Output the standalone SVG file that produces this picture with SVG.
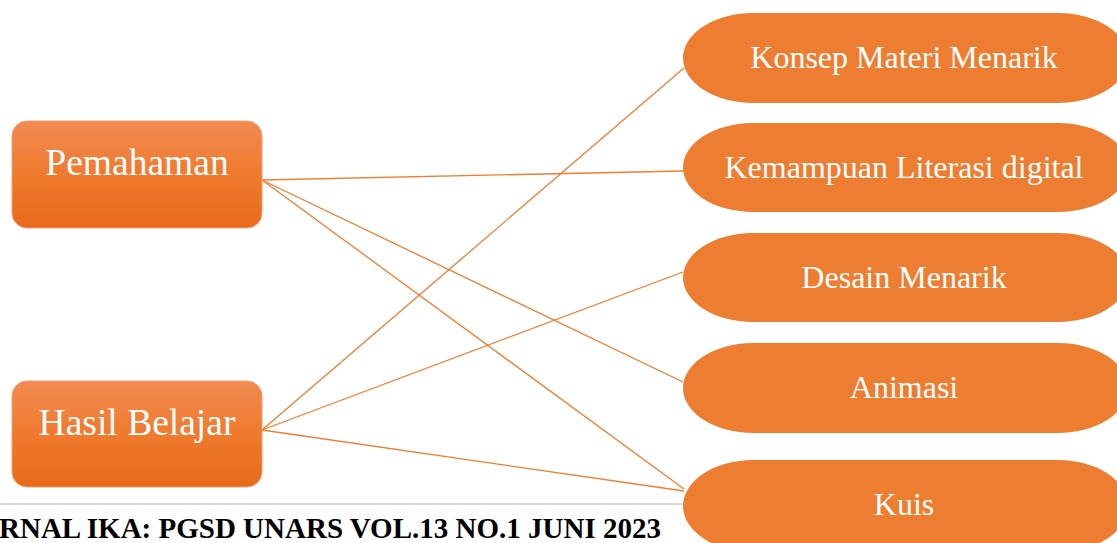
<svg xmlns="http://www.w3.org/2000/svg" width="1117" height="543" viewBox="0 0 1117 543">
<defs>
<linearGradient id="g" x1="0" y1="0" x2="0" y2="1">
<stop offset="0" stop-color="#F08B52"/>
<stop offset="0.5" stop-color="#F07A2E"/>
<stop offset="1" stop-color="#E76A1A"/>
</linearGradient>
<style>
.box{fill:url(#g);stroke:#F3A070;stroke-width:1}
.pill{fill:#ED7D31}
.lt{font-family:"Liberation Serif","Times New Roman",serif;font-size:37.5px;fill:#FFFFFF;text-anchor:middle}
.rt{font-family:"Liberation Serif","Times New Roman",serif;font-size:32px;fill:#FFFFFF;text-anchor:middle}
.c{stroke:#ED7D31;stroke-width:1.3;fill:none}
</style>
</defs>
<rect width="1117" height="543" fill="#FFFFFF"/>
<g id="footer">
<line x1="0" y1="504" x2="690" y2="504" stroke="#D9D9D9" stroke-width="2"/>
<text x="-1" y="538" font-family="Liberation Serif,'Times New Roman',serif" font-weight="bold" font-size="29" fill="#000000">RNAL IKA: PGSD UNARS VOL.13 NO.1 JUNI 2023</text>
</g>
<g id="connectors">
<line class="c" x1="262" y1="180" x2="683" y2="171"/>
<line class="c" x1="262" y1="180" x2="683" y2="382"/>
<line class="c" x1="262" y1="180" x2="684" y2="489"/>
<line class="c" x1="262" y1="430" x2="684" y2="68"/>
<line class="c" x1="262" y1="430" x2="683" y2="272"/>
<line class="c" x1="262" y1="430" x2="684" y2="491"/>
</g>
<g id="pemahaman">
<rect class="box" x="12" y="121" width="250" height="107" rx="15"/>
<text class="lt" x="137" y="175">Pemahaman</text>
</g>
<g id="hasil-belajar">
<rect class="box" x="12" y="381" width="250" height="106" rx="15"/>
<text class="lt" x="137" y="435">Hasil Belajar</text>
</g>
<g id="konsep">
<rect class="pill" x="683" y="13" width="445" height="90" rx="70" ry="45"/>
<text class="rt" x="904" y="68">Konsep Materi Menarik</text>
</g>
<g id="kemampuan">
<rect class="pill" x="683" y="123" width="445" height="89" rx="70" ry="44.5"/>
<text class="rt" x="904" y="178">Kemampuan Literasi digital</text>
</g>
<g id="desain">
<rect class="pill" x="683" y="233" width="445" height="89" rx="70" ry="44.5"/>
<text class="rt" x="904" y="288">Desain Menarik</text>
</g>
<g id="animasi">
<rect class="pill" x="683" y="343" width="445" height="90" rx="70" ry="45"/>
<text class="rt" x="904" y="398">Animasi</text>
</g>
<g id="kuis">
<rect class="pill" x="683" y="460" width="445" height="92" rx="70" ry="46"/>
<text class="rt" x="904" y="515">Kuis</text>
</g>
</svg>
